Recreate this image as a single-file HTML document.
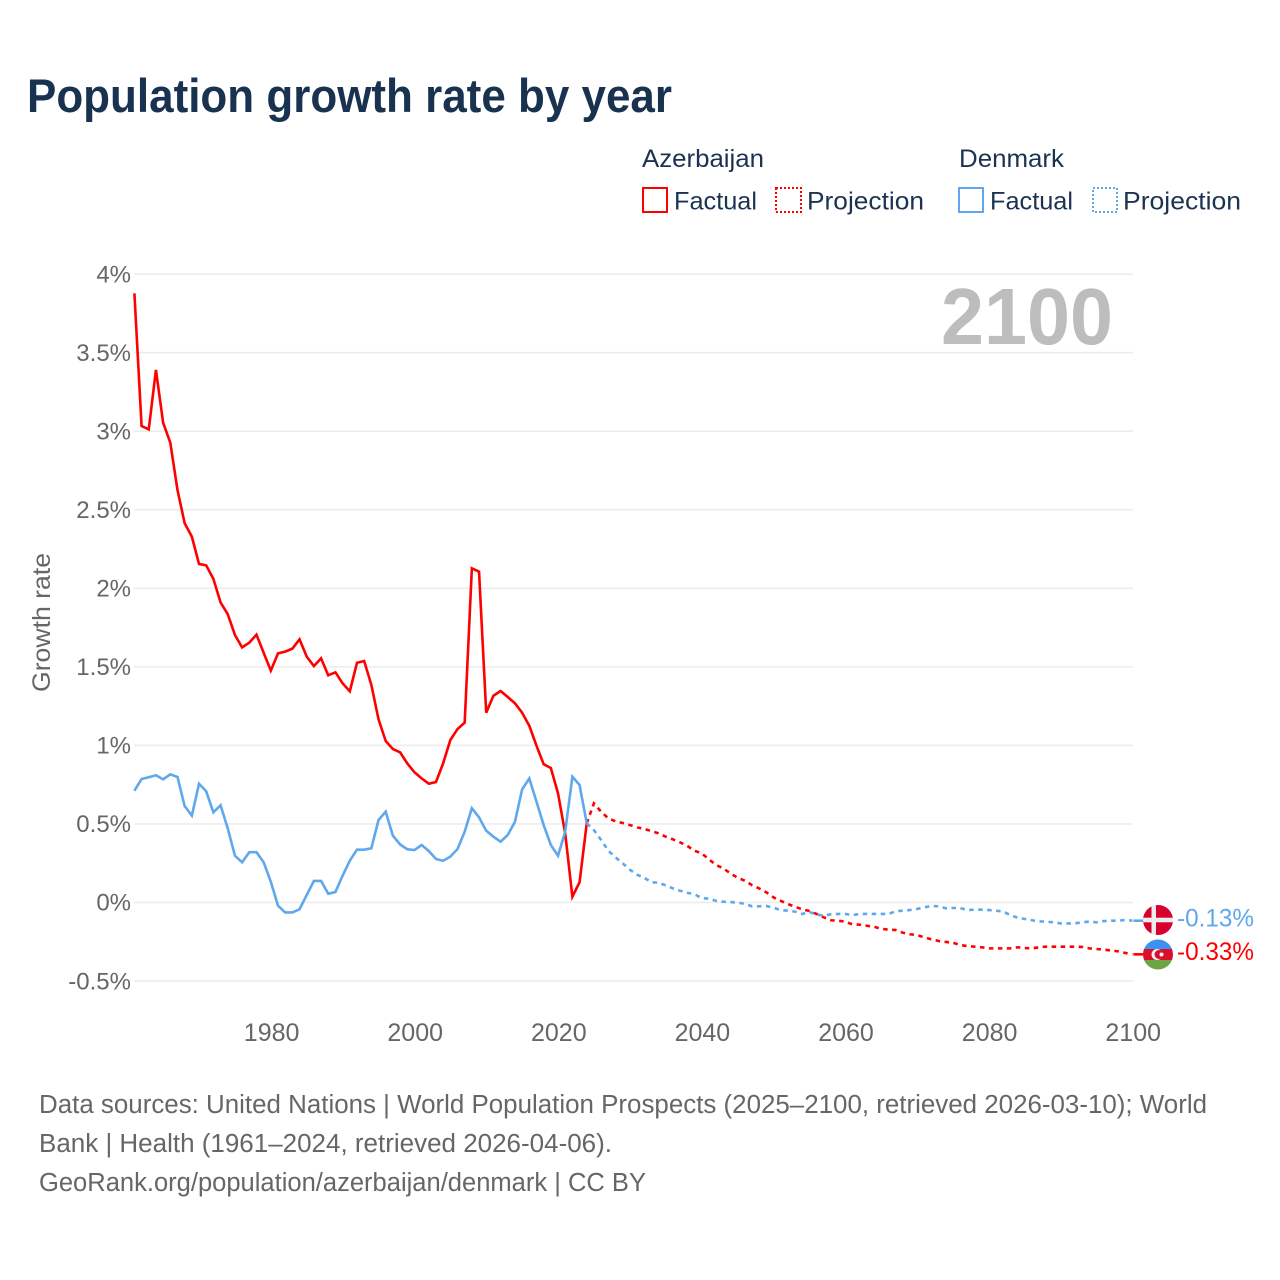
<!DOCTYPE html>
<html lang="en">
<head>
<meta charset="utf-8">
<title>Population growth rate by year</title>
<style>
html,body{margin:0;padding:0;background:#fff;width:1280px;height:1280px;overflow:hidden}
svg{display:block}
text{font-family:"Liberation Sans",sans-serif}
</style>
</head>
<body>
<svg id="chart" xmlns="http://www.w3.org/2000/svg" width="1280" height="1280" viewBox="0 0 1280 1280">
  <rect width="1280" height="1280" fill="#fff"/>
  <text x="27" y="112" font-size="47" font-weight="700" fill="#18324f" textLength="645" lengthAdjust="spacingAndGlyphs">Population growth rate by year</text>

  <g font-size="25" fill="#1b3350">
    <text x="642" y="167" textLength="122" lengthAdjust="spacingAndGlyphs">Azerbaijan</text>
    <text x="959" y="167" textLength="105" lengthAdjust="spacingAndGlyphs">Denmark</text>
    <rect x="643" y="188" width="24" height="24" fill="none" stroke="#ff0000" stroke-width="2"/>
    <text x="674" y="209.5" textLength="83" lengthAdjust="spacingAndGlyphs">Factual</text>
    <rect x="776" y="188" width="25" height="24" fill="none" stroke="#ff0000" stroke-width="2" stroke-dasharray="2 2"/>
    <text x="807" y="209.5" textLength="117" lengthAdjust="spacingAndGlyphs">Projection</text>
    <rect x="959" y="188" width="24" height="24" fill="none" stroke="#5fa8ee" stroke-width="2"/>
    <text x="990" y="209.5" textLength="83" lengthAdjust="spacingAndGlyphs">Factual</text>
    <rect x="1093" y="188" width="24" height="24" fill="none" stroke="#5fa8ee" stroke-width="2" stroke-dasharray="2 2"/>
    <text x="1123" y="209.5" textLength="118" lengthAdjust="spacingAndGlyphs">Projection</text>
  </g>

  <g id="grid"></g>
  <g id="yTicks" font-size="24" fill="#666" text-anchor="end"></g>
  <g id="xTicks" font-size="25" fill="#666" text-anchor="middle"></g>
  <text transform="translate(50,622.5) rotate(-90)" font-size="25" fill="#666" text-anchor="middle" textLength="139" lengthAdjust="spacingAndGlyphs">Growth rate</text>
  <text x="1113" y="344" font-size="80" font-weight="700" fill="#bdbdbd" text-anchor="end" textLength="172" lengthAdjust="spacingAndGlyphs">2100</text>

  <g id="series" fill="none" stroke-width="2.6" stroke-linejoin="miter"></g>

  <defs>
    <clipPath id="clipDk"><circle cx="1158" cy="920" r="15"/></clipPath>
    <clipPath id="clipAz"><circle cx="1158" cy="954.5" r="15"/></clipPath>
  </defs>
  <g clip-path="url(#clipDk)">
    <rect x="1143" y="905" width="30" height="30" fill="#d7002e"/>
    <rect x="1151.5" y="905" width="4.5" height="30" fill="#ececec"/>
    <rect x="1143" y="917.7" width="30" height="4.6" fill="#ececec"/>
  </g>
  <g clip-path="url(#clipAz)">
    <rect x="1143" y="939.5" width="30" height="9.5" fill="#3b92f3"/>
    <rect x="1143" y="949" width="30" height="11" fill="#d9102c"/>
    <rect x="1143" y="960" width="30" height="10" fill="#6ea544"/>
    <circle cx="1157" cy="954.5" r="5.5" fill="#f4f4f4"/>
    <circle cx="1159" cy="954.5" r="4.5" fill="#d9102c"/>
    <circle cx="1161.5" cy="954.5" r="2" fill="#f4f4f4"/>
  </g>
  <g id="endLabels" font-size="25"></g>

  <g font-size="25.5" fill="#666">
    <text x="39" y="1113" textLength="1168" lengthAdjust="spacingAndGlyphs">Data sources: United Nations | World Population Prospects (2025–2100, retrieved 2026-03-10); World</text>
    <text x="39" y="1152" textLength="573" lengthAdjust="spacingAndGlyphs">Bank | Health (1961–2024, retrieved 2026-04-06).</text>
    <text x="39" y="1191" textLength="607" lengthAdjust="spacingAndGlyphs">GeoRank.org/population/azerbaijan/denmark | CC BY</text>
  </g>
</svg>
<script>
const yTickValues = [-0.5, 0, 0.5, 1, 1.5, 2, 2.5, 3, 3.5, 4];
const xTickYears = [1980, 2000, 2020, 2040, 2060, 2080, 2100];
const factualStartYear = 1961;
const projectionStartYear = 2024;

const azerbaijanFactual = [3.878,3.033,3.012,3.39,3.054,2.927,2.626,2.414,2.329,2.155,2.146,2.06,1.91,1.835,1.703,1.624,1.654,1.705,1.59,1.476,1.586,1.597,1.616,1.675,1.565,1.505,1.554,1.446,1.465,1.395,1.344,1.526,1.537,1.385,1.166,1.028,0.977,0.956,0.886,0.829,0.79,0.756,0.767,0.886,1.034,1.104,1.145,2.127,2.106,1.208,1.316,1.346,1.308,1.268,1.208,1.125,0.998,0.88,0.856,0.695,0.44,0.037,0.129,0.504];
const denmarkFactual = [0.712,0.786,0.797,0.81,0.784,0.816,0.799,0.614,0.553,0.756,0.708,0.574,0.619,0.472,0.298,0.256,0.32,0.32,0.256,0.132,-0.02,-0.063,-0.063,-0.043,0.048,0.137,0.137,0.056,0.067,0.171,0.266,0.336,0.336,0.345,0.525,0.578,0.425,0.37,0.339,0.334,0.366,0.328,0.277,0.266,0.292,0.34,0.451,0.6,0.542,0.457,0.419,0.387,0.43,0.514,0.72,0.79,0.642,0.493,0.366,0.298,0.451,0.801,0.748,0.504];
const azerbaijanProjection = [0.504,0.631,0.578,0.536,0.517,0.506,0.493,0.479,0.468,0.455,0.44,0.419,0.402,0.383,0.36,0.33,0.313,0.275,0.239,0.218,0.186,0.158,0.139,0.111,0.09,0.065,0.033,0.011,-0.01,-0.027,-0.043,-0.054,-0.073,-0.094,-0.113,-0.116,-0.122,-0.139,-0.141,-0.148,-0.154,-0.167,-0.173,-0.175,-0.192,-0.202,-0.207,-0.222,-0.234,-0.245,-0.251,-0.256,-0.271,-0.277,-0.281,-0.285,-0.292,-0.292,-0.292,-0.292,-0.285,-0.29,-0.292,-0.285,-0.281,-0.281,-0.281,-0.281,-0.281,-0.283,-0.292,-0.296,-0.3,-0.305,-0.311,-0.321,-0.33];
const denmarkProjection = [0.504,0.461,0.398,0.33,0.288,0.25,0.209,0.177,0.158,0.129,0.126,0.109,0.09,0.075,0.062,0.052,0.029,0.024,0.011,0.005,0.003,-0.001,-0.008,-0.024,-0.024,-0.022,-0.033,-0.048,-0.052,-0.058,-0.073,-0.06,-0.077,-0.084,-0.075,-0.073,-0.073,-0.08,-0.073,-0.073,-0.073,-0.073,-0.073,-0.056,-0.052,-0.048,-0.041,-0.031,-0.022,-0.024,-0.037,-0.035,-0.035,-0.048,-0.046,-0.046,-0.048,-0.052,-0.058,-0.08,-0.097,-0.105,-0.113,-0.12,-0.122,-0.126,-0.133,-0.133,-0.133,-0.126,-0.122,-0.126,-0.118,-0.116,-0.116,-0.111,-0.116];
const endLabelValues = [-0.13, -0.33];

const NS = 'http://www.w3.org/2000/svg';
const xScale = function (year) { return 134.4 + (year - 1961) * 7.18; };
const yScale = function (value) { return 902.5 - value * 157.1; };

function lineFrom(values, startYear) {
  return values.map(function (v, i) {
    return (i ? 'L' : 'M') + xScale(startYear + i).toFixed(2) + ' ' + yScale(v).toFixed(2);
  }).join('');
}
function addSeries(values, startYear, color, dash, name) {
  const p = document.createElementNS(NS, 'path');
  
  
  p.setAttribute('d', lineFrom(values, startYear));
  p.setAttribute('stroke', color);
  if (dash) p.setAttribute('stroke-dasharray', dash);
  document.getElementById('series').appendChild(p);
}
function addConnector(values, color, name) {
  const last = values[values.length - 1];
  const c = document.createElementNS(NS, 'path');
  
  
  c.setAttribute('d', 'M' + (xScale(2100) + 1).toFixed(2) + ' ' + yScale(last).toFixed(2) + 'H1143');
  c.setAttribute('stroke', color);
  document.getElementById('series').appendChild(c);
}

yTickValues.forEach(function (v) {
  const g = document.createElementNS(NS, 'rect');
  
  
  g.setAttribute('x', 134);
  g.setAttribute('y', (yScale(v) - 0.75).toFixed(2));
  g.setAttribute('width', 999);
  g.setAttribute('height', 1.5);
  g.setAttribute('fill', '#ececec');
  document.getElementById('grid').appendChild(g);
  const t = document.createElementNS(NS, 'text');
  
  
  t.setAttribute('x', 131);
  t.setAttribute('y', (yScale(v) + 8.2).toFixed(2));
  t.textContent = v + '%';
  document.getElementById('yTicks').appendChild(t);
});
xTickYears.forEach(function (y) {
  const t = document.createElementNS(NS, 'text');
  
  
  t.setAttribute('x', (xScale(y) + 0.8).toFixed(2));
  t.setAttribute('y', 1041);
  t.textContent = y;
  document.getElementById('xTicks').appendChild(t);
});

addSeries(azerbaijanFactual, factualStartYear, '#ff0000', '', 'azerbaijan-factual-line');
addSeries(azerbaijanProjection, projectionStartYear, '#ff0000', '4.5 4.5', 'azerbaijan-projection-line');
addSeries(denmarkFactual, factualStartYear, '#5fa8ee', '', 'denmark-factual-line');
addSeries(denmarkProjection, projectionStartYear, '#5fa8ee', '4.5 4.5', 'denmark-projection-line');
addConnector(azerbaijanProjection, '#ff0000', 'azerbaijan-end-connector');
addConnector(denmarkProjection, '#5fa8ee', 'denmark-end-connector');

[['#5fa8ee', 926.5, 0], ['#ff0000', 960, 1]].forEach(function (row) {
  const t = document.createElementNS(NS, 'text');
  
  
  t.setAttribute('x', 1177);
  t.setAttribute('y', row[1]);
  t.setAttribute('fill', row[0]);
  t.setAttribute('textLength', 77);
  t.setAttribute('lengthAdjust', 'spacingAndGlyphs');
  t.textContent = endLabelValues[row[2]].toFixed(2) + '%';
  document.getElementById('endLabels').appendChild(t);
});
</script>
</body>
</html>
